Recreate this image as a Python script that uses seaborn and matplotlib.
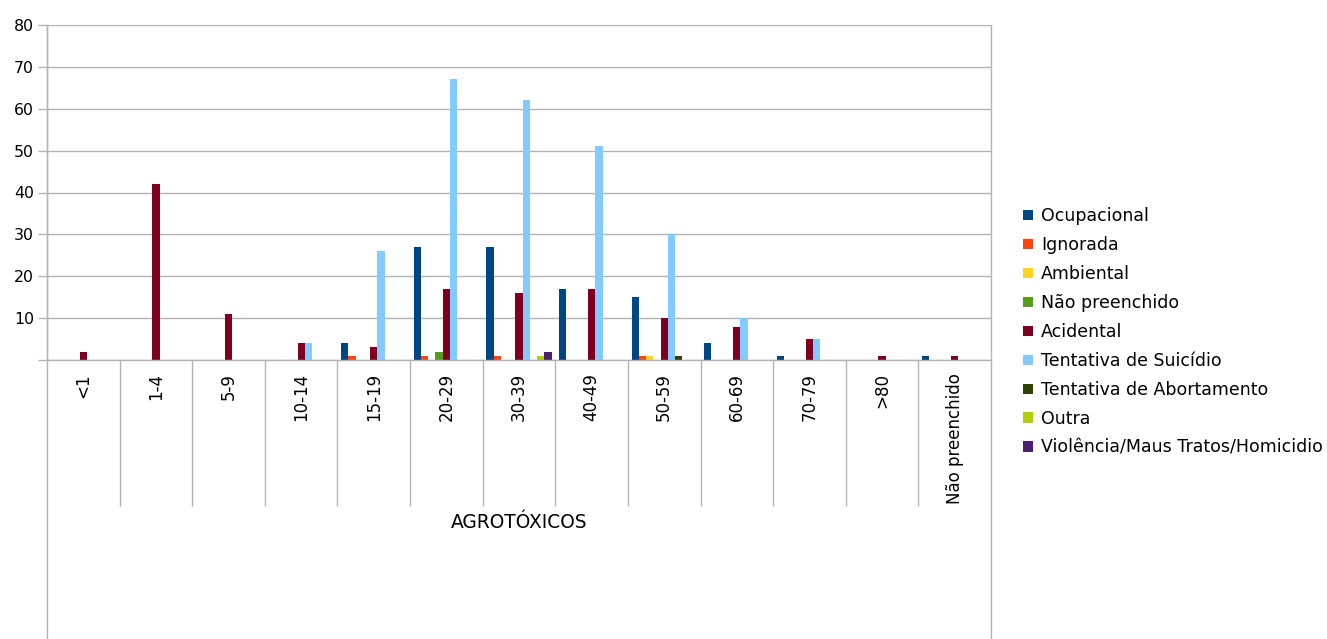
import matplotlib
matplotlib.use("Agg")
import matplotlib.pyplot as plt
from matplotlib.patches import Patch
import pandas as pd
import seaborn as sns

# Age groups (x categories)
faixas = ["<1", "1-4", "5-9", "10-14", "15-19", "20-29", "30-39",
          "40-49", "50-59", "60-69", "70-79", ">80", "Não preenchido"]

# Circumstance of exposure (series)
tipos = ["Ocupacional", "Ignorada", "Ambiental", "Não preenchido", "Acidental",
         "Tentativa de Suicídio", "Tentativa de Abortamento", "Outra",
         "Violência/Maus Tratos/Homicidio"]

ocupacional      = [0, 0, 0, 0, 4, 27, 27, 17, 15, 4, 1, 0, 1]
ignorada         = [0, 0, 0, 0, 1, 1, 1, 0, 1, 0, 0, 0, 0]
ambiental        = [0, 0, 0, 0, 0, 0, 0, 0, 1, 0, 0, 0, 0]
nao_preenchido   = [0, 0, 0, 0, 0, 2, 0, 0, 0, 0, 0, 0, 0]
acidental        = [2, 42, 11, 4, 3, 17, 16, 17, 10, 8, 5, 1, 1]
suicidio         = [0, 0, 0, 4, 26, 67, 62, 51, 30, 10, 5, 0, 0]
abortamento      = [0, 0, 0, 0, 0, 0, 0, 0, 1, 0, 0, 0, 0]
outra            = [0, 0, 0, 0, 0, 0, 1, 0, 0, 0, 0, 0, 0]
violencia        = [0, 0, 0, 0, 0, 0, 2, 0, 0, 0, 0, 0, 0]

cores = ["#004586", "#ff420e", "#ffd320", "#579d1c", "#7e0021",
         "#83caff", "#314004", "#aecf00", "#4b1f6f"]

series = [ocupacional, ignorada, ambiental, nao_preenchido, acidental,
          suicidio, abortamento, outra, violencia]

rows = []
for tipo, vals in zip(tipos, series):
    for faixa, v in zip(faixas, vals):
        rows.append({"faixa": faixa, "tipo": tipo, "valor": v})
df = pd.DataFrame(rows)

sns.set_theme(style="white")
plt.rcParams["font.family"] = ["DejaVu Sans"]

W, H = 1327, 639
fig = plt.figure(figsize=(W / 100, H / 100), dpi=100)
ax_left, ax_right, ax_top, ax_bottom = 47, 991, 25, 360
ax = fig.add_axes([ax_left / W, 1 - ax_bottom / H,
                   (ax_right - ax_left) / W, (ax_bottom - ax_top) / H])

grey = "#b3b3b3"

sns.barplot(data=df, x="faixa", y="valor", hue="tipo", order=faixas,
            hue_order=tipos, palette=cores, width=0.9, saturation=1,
            linewidth=0, errorbar=None, legend=False, ax=ax)

ax.set_xlim(-0.5, len(faixas) - 0.5)
ax.set_ylim(0, 80)
ax.set_yticks(range(0, 81, 10))
ax.set_yticklabels([""] + [str(v) for v in range(10, 81, 10)])
ax.yaxis.grid(True, color=grey, linewidth=1)
ax.set_axisbelow(True)
ax.set_xlabel("")
ax.set_ylabel("")

for side in ["top", "right"]:
    ax.spines[side].set_visible(False)
for side in ["left", "bottom"]:
    ax.spines[side].set_color(grey)
    ax.spines[side].set_linewidth(1)

ax.tick_params(axis="y", length=6.5, width=1, color=grey, pad=3,
               labelsize=11.3, labelcolor="#000000", left=True)
ax.tick_params(axis="x", which="major", length=0, pad=9.4,
               labelsize=12, labelcolor="#000000", labelrotation=90)
for lbl in ax.get_xticklabels():
    lbl.set_verticalalignment("top")

# category separators below the axis
ax.set_xticks([i + 0.5 for i in range(len(faixas) - 1)], minor=True)
ax.tick_params(axis="x", which="minor", length=105, width=1, color=grey,
               direction="out", bottom=True)

# outer frame lines of the category area
ax.plot([0, 0], [1, -0.85], transform=ax.transAxes, color=grey,
        linewidth=1, clip_on=False)
ax.plot([1, 1], [1, -0.85], transform=ax.transAxes, color=grey,
        linewidth=1, clip_on=False)

ax.text(0.5, -0.485, "AGROTÓXICOS", transform=ax.transAxes, ha="center",
        va="center", fontsize=13.4, color="#000000")

handles = [Patch(facecolor=c, edgecolor="none", label=t)
           for c, t in zip(cores, tipos)]
fig.legend(handles=handles, loc="center left",
           bbox_to_anchor=(1023 / W, 1 - 332 / H), frameon=False,
           fontsize=12.5, labelcolor="#000000", handlelength=0.55,
           handleheight=0.55, handletextpad=0.5, labelspacing=0.63,
           borderpad=0, borderaxespad=0)

fig.savefig("out.png", dpi=100, facecolor="white")
